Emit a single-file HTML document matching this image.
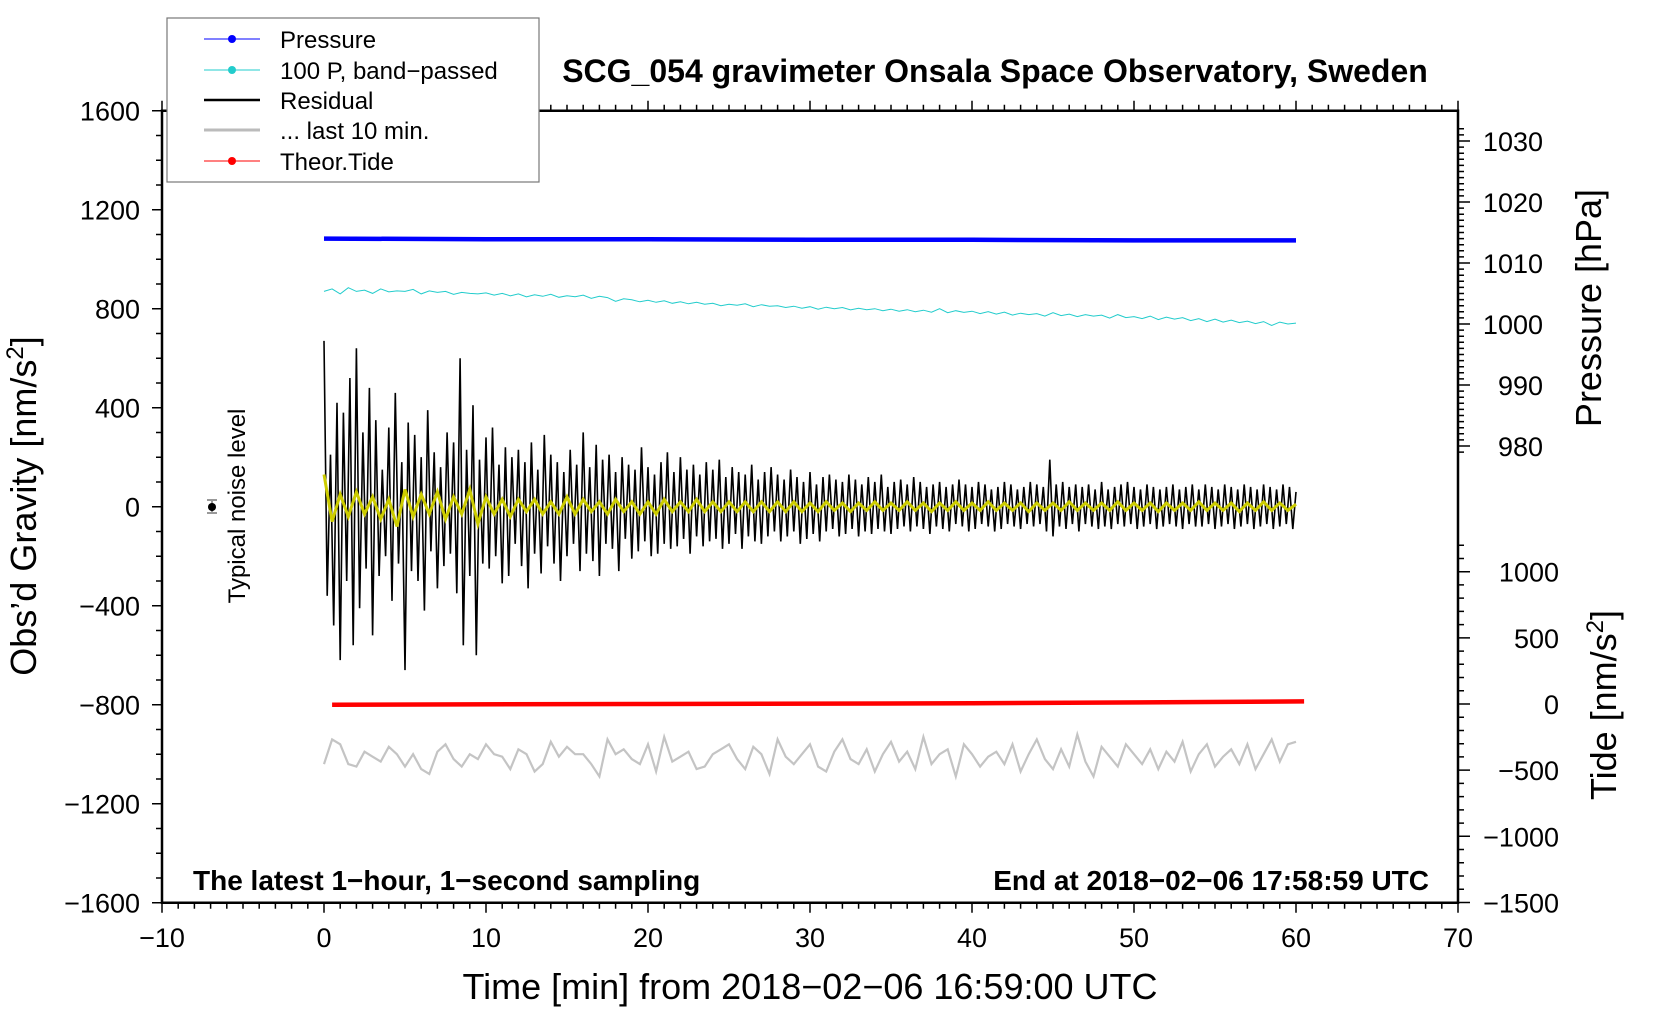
<!DOCTYPE html>
<html><head><meta charset="utf-8"><style>
html,body{margin:0;padding:0;background:#fff;}
svg{display:block;font-family:"Liberation Sans",sans-serif;}
</style></head><body>
<svg id="chart" width="1660" height="1020" viewBox="0 0 1660 1020" xmlns="http://www.w3.org/2000/svg">
<rect width="1660" height="1020" fill="#fff"/>
<g id="marks"></g>
<g id="axes"></g>
<text x="995" y="82" text-anchor="middle" font-size="32" font-weight="bold">SCG_054 gravimeter Onsala Space Observatory, Sweden</text>
<text x="193" y="890" font-size="28" font-weight="bold">The latest 1−hour, 1−second sampling</text>
<text x="1429" y="890" text-anchor="end" font-size="28" font-weight="bold">End at 2018−02−06 17:58:59 UTC</text>
<text x="810" y="999" text-anchor="middle" font-size="36">Time [min] from 2018−02−06 16:59:00 UTC</text>
<text transform="translate(36,506) rotate(-90)" text-anchor="middle" font-size="36">Obs’d Gravity [nm/s<tspan baseline-shift="super" font-size="24">2</tspan>]</text>
<text transform="translate(1601,308) rotate(-90)" text-anchor="middle" font-size="36">Pressure [hPa]</text>
<text transform="translate(1616,705) rotate(-90)" text-anchor="middle" font-size="36">Tide [nm/s<tspan baseline-shift="super" font-size="24">2</tspan>]</text>
<text transform="translate(245,506) rotate(-90)" text-anchor="middle" font-size="24">Typical noise level</text>
<g>
<line x1="212" y1="500" x2="212" y2="513" stroke="#999" stroke-width="2"/>
<line x1="207" y1="500" x2="217" y2="500" stroke="#999" stroke-width="2"/>
<line x1="207" y1="513" x2="217" y2="513" stroke="#999" stroke-width="2"/>
<circle cx="212" cy="507" r="4" fill="#000"/>
</g>
<g>
<rect x="167" y="18" width="372" height="164" fill="#fff" stroke="#777" stroke-width="1.2"/>
<g><line x1="204" y1="39" x2="260" y2="39" stroke="#00f" stroke-width="1"/><circle cx="232" cy="39" r="4" fill="#00f"/><text x="280" y="48" font-size="24">Pressure</text></g>
<g><line x1="204" y1="70" x2="260" y2="70" stroke="#2cc" stroke-width="1"/><circle cx="232" cy="70" r="4" fill="#2cc"/><text x="280" y="79" font-size="24">100 P, band−passed</text></g>
<g><line x1="204" y1="100" x2="260" y2="100" stroke="#000" stroke-width="2.5"/><text x="280" y="109" font-size="24">Residual</text></g>
<g><line x1="204" y1="130" x2="260" y2="130" stroke="#bbb" stroke-width="3"/><text x="280" y="139" font-size="24">... last 10 min.</text></g>
<g><line x1="204" y1="161" x2="260" y2="161" stroke="#f00" stroke-width="1"/><circle cx="232" cy="161" r="4" fill="#f00"/><text x="280" y="170" font-size="24">Theor.Tide</text></g>
</g>
<script>
// ---- data ----
const residualStep = 0.2; // minutes
const residual = [
670,-360,210,-480,420,-620,380,-300,520,-560,640,-410,300,-250,480,-520,350,-280,150,-200,
320,-380,460,-230,180,-660,340,-260,290,-300,200,-420,390,-180,220,-330,160,-240,300,-190,
260,-350,600,-560,230,-280,410,-600,190,-230,280,-250,320,-200,170,-310,240,-280,200,-150,
230,-240,180,-330,260,-190,150,-270,290,-160,210,-230,180,-300,140,-200,230,-150,170,-260,
300,-190,160,-220,250,-280,190,-150,210,-170,140,-260,200,-130,170,-210,150,-180,240,-140,
160,-200,130,-190,180,-150,220,-170,140,-160,200,-130,150,-190,170,-120,130,-160,180,-140,
150,-130,190,-170,120,-150,160,-110,140,-170,130,-120,170,-140,110,-150,140,-120,160,-100,
130,-140,110,-120,150,-100,120,-150,100,-130,140,-110,90,-140,120,-100,130,-90,110,-120,
100,-110,130,-90,110,-120,90,-100,120,-110,100,-90,130,-100,80,-110,100,-90,110,-80,
90,-100,120,-80,100,-90,80,-110,90,-80,100,-90,80,-100,90,-70,110,-80,90,-100,
80,-90,100,-70,90,-80,70,-100,80,-90,100,-70,90,-80,70,-90,80,-70,100,-80,
90,-70,80,-100,190,-120,90,-80,100,-90,80,-70,90,-100,80,-70,90,-80,70,-90,
100,-80,70,-90,80,-70,90,-80,100,-70,80,-90,70,-80,90,-70,80,-90,70,-80,
80,-70,90,-80,70,-90,80,-70,90,-80,70,-80,90,-70,80,-90,70,-80,90,-70,
80,-90,70,-80,90,-70,80,-90,70,-80,90,-70,80,-90,70,-80,90,-70,80,-90,60];
const smoothStep = 0.5;
const smoothed = [
130,-60,50,-40,60,-30,40,-50,30,-80,70,-40,50,-30,60,-50,40,-30,70,-70,
40,-30,30,-40,30,-20,30,-30,20,-30,40,-30,30,-20,20,-30,30,-20,20,-30,
20,-30,30,-20,20,-20,30,-20,20,-20,20,-20,20,-20,20,-20,20,-20,20,-20,
15,-20,20,-15,15,-20,15,-15,20,-15,15,-15,20,-15,15,-20,15,-15,20,-15,
15,-15,20,-15,15,-15,15,-20,15,-15,15,-15,20,-15,15,-15,15,-15,20,-15,
15,-15,15,-20,15,-15,15,-15,20,-15,15,-15,15,-20,15,-15,20,-15,15,-15,10];
const bandStep = 0.5;
const bandPassed = [
870,880,860,885,870,875,862,880,868,872,870,878,860,872,866,870,858,866,862,860,
864,855,862,852,860,848,856,850,858,846,852,848,855,842,850,845,830,840,836,828,
834,826,832,822,828,820,826,818,822,812,818,814,820,808,816,810,812,805,810,802,
808,798,806,800,805,795,802,796,800,792,798,790,796,788,794,786,800,784,792,785,
790,780,788,778,786,774,782,776,780,770,784,772,778,768,776,770,774,762,776,764,
768,760,770,756,766,758,764,752,760,748,758,746,754,744,750,740,748,732,746,738,742];
const pressureTimes = [0, 10, 20, 30, 40, 50, 60];
const pressure = [1014.0, 1013.9, 1013.9, 1013.8, 1013.8, 1013.7, 1013.7];
const tideTimes = [0.5, 20, 40, 60.5];
const tide = [-5, 0, 5, 20];
const lastStep = 0.5;
const last10 = [
-1040,-940,-960,-1040,-1050,-990,-1010,-1030,-970,-1000,-1050,-1000,-1060,-1080,-990,-960,-1020,-1050,-1000,-1020,
-960,-1000,-1010,-1060,-980,-1000,-1070,-1040,-950,-1010,-970,-1000,-1000,-1040,-1090,-940,-1000,-980,-1020,-1040,
-960,-1070,-930,-1030,-1010,-990,-1060,-1050,-1000,-980,-960,-1020,-1060,-970,-1000,-1080,-940,-1010,-1040,-1000,
-960,-1050,-1070,-990,-940,-1020,-1040,-980,-1070,-1000,-950,-1030,-990,-1060,-930,-1040,-1000,-980,-1090,-960,
-1000,-1050,-1010,-990,-1040,-960,-1070,-1000,-940,-1020,-1060,-980,-1050,-920,-1030,-1090,-970,-1010,-1050,-960,
-1000,-1040,-980,-1060,-990,-1030,-950,-1070,-1000,-960,-1050,-1010,-980,-1040,-960,-1060,-1000,-940,-1030,-960,-950];
const xTicks = [-10, 0, 10, 20, 30, 40, 50, 60, 70];
const yTicks = [1600, 1200, 800, 400, 0, -400, -800, -1200, -1600];
const pTicks = [1030, 1020, 1010, 1000, 990, 980];
const tideTicks = [1000, 500, 0, -500, -1000, -1500];

// ---- scales ----
const X0 = 162, X1 = 1458, Y0 = 110.7, Y1 = 902.7;
const xs = t => X0 + (t + 10) / 80 * (X1 - X0);
const ys = g => Y0 + (1600 - g) / 3200 * (Y1 - Y0);
const ps = p => 141 + (1030 - p) * 6.1;
const ts = v => 704 + (0 - v) * 0.1323;
const NS = "http://www.w3.org/2000/svg";
const marks = document.getElementById('marks');
const axes = document.getElementById('axes');
function mk(tag, attrs, parent) {
  const e = document.createElementNS(NS, tag);
  for (const k in attrs) e.setAttribute(k, attrs[k]);
  parent.appendChild(e);
  return e;
}
function poly(pts) { return pts.map(p => p[0].toFixed(1) + ',' + p[1].toFixed(1)).join(' '); }

let el;
el = mk('polyline', {points: poly(bandPassed.map((v, i) => [xs(i * bandStep), ys(v)])), fill: 'none', stroke: '#2cc', 'stroke-width': 1}, marks);


el = mk('polyline', {points: poly(pressure.map((v, i) => [xs(pressureTimes[i]), ps(v)])), fill: 'none', stroke: '#00f', 'stroke-width': 4.5}, marks);


el = mk('polyline', {points: poly(residual.map((v, i) => [xs(i * residualStep), ys(v)])), fill: 'none', stroke: '#000', 'stroke-width': 1.6}, marks);


el = mk('polyline', {points: poly(smoothed.map((v, i) => [xs(i * smoothStep), ys(v)])), fill: 'none', stroke: '#cc0', 'stroke-width': 3}, marks);


el = mk('polyline', {points: poly(tide.map((v, i) => [xs(tideTimes[i]), ts(v)])), fill: 'none', stroke: '#f00', 'stroke-width': 4.5}, marks);


el = mk('polyline', {points: poly(last10.map((v, i) => [xs(i * lastStep), ys(v)])), fill: 'none', stroke: '#c4c4c4', 'stroke-width': 2.2}, marks);



// frame
el = mk('path', {d: `M${X0},${Y0} H${X1} V${Y1} H${X0} Z`, fill: 'none', stroke: '#000', 'stroke-width': 2.5}, axes);


let d = '';
for (let t = -10; t <= 70; t++) {
  const L = t % 10 === 0 ? 10 : 6;
  d += `M${xs(t)},${Y1} v${L} M${xs(t)},${Y0} v${-L} `;
}
for (let g = -1600; g <= 1600; g += 100) {
  d += `M${X0},${ys(g)} h${g % 400 === 0 ? -10 : -6} `;
}
for (let p = 1032; p >= 979; p--) {
  d += `M${X1},${ps(p)} h${p % 10 === 0 ? 12 : 6} `;
}
for (let v = -1500; v <= 1200; v += 100) {
  d += `M${X1},${ts(v)} h${v % 500 === 0 ? 12 : 6} `;
}
el = mk('path', {d: d, stroke: '#000', 'stroke-width': 1.5, fill: 'none'}, axes);


const fmt = v => String(v).replace('-', '−');
xTicks.forEach(t => {
  const e = mk('text', {x: xs(t), y: 947, 'text-anchor': 'middle', 'font-size': 27}, axes);
  e.textContent = fmt(t);
  
  
});
yTicks.forEach(g => {
  const e = mk('text', {x: 140, y: ys(g) + 10, 'text-anchor': 'end', 'font-size': 27}, axes);
  e.textContent = fmt(g);
  
  
});
pTicks.forEach(p => {
  const e = mk('text', {x: 1543, y: ps(p) + 10, 'text-anchor': 'end', 'font-size': 27}, axes);
  e.textContent = fmt(p);
  
  
});
tideTicks.forEach(v => {
  const e = mk('text', {x: 1559, y: ts(v) + 10, 'text-anchor': 'end', 'font-size': 27}, axes);
  e.textContent = fmt(v);
  
  
});
</script>
</svg>
</body></html>
